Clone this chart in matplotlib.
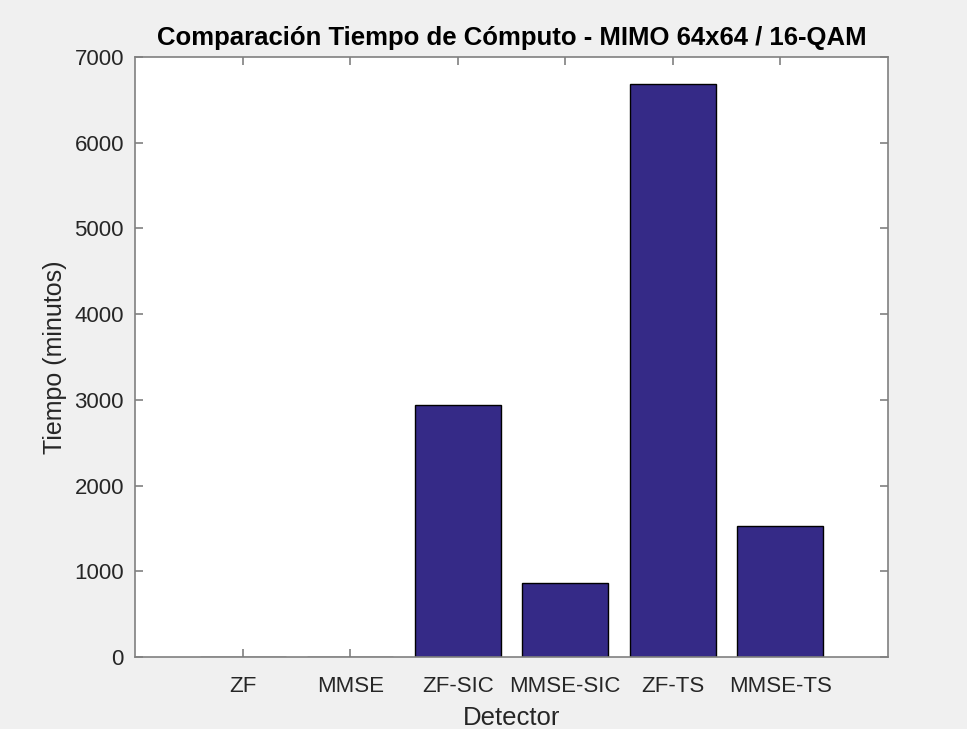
import matplotlib
matplotlib.use("Agg")
import matplotlib.pyplot as plt
import numpy as np

BG = "#f0f0f0"
BAR = "#352a87"
AXIS = "#808080"
TEXT = "#262626"

detectors = ["ZF", "MMSE", "ZF-SIC", "MMSE-SIC", "ZF-TS", "MMSE-TS"]
minutes = [0.8, 1.2, 2945, 868, 6690, 1528]
yticks = [0, 1000, 2000, 3000, 4000, 5000, 6000, 7000]

plt.rcParams["font.family"] = ["Liberation Sans", "DejaVu Sans"]

fig = plt.figure(figsize=(9.67, 7.29), dpi=100)
fig.patch.set_facecolor(BG)
ax = fig.add_axes([0.1396, 0.0988, 0.7787, 0.823])
ax.set_facecolor("white")

pos = np.arange(1, len(detectors) + 1)
ax.bar(pos, minutes, width=0.8, color=BAR, edgecolor="black", linewidth=1.0, zorder=2)

ax.set_xlim(0, 7)
ax.set_ylim(0, 7000)
ax.set_xticks(pos)
ax.set_xticklabels(detectors)
ax.set_yticks(yticks)

for s in ax.spines.values():
    s.set_color(AXIS)
    s.set_linewidth(1.2)
ax.tick_params(direction="in", top=True, right=True, length=6, width=1.2,
               color=AXIS, labelcolor=TEXT, labelsize=16)
ax.tick_params(axis="x", pad=14)
ax.tick_params(axis="y", pad=8)

ax.set_title("Comparación Tiempo de Cómputo - MIMO 64x64 / 16-QAM",
             fontsize=18.5, fontweight="bold", color="black", pad=9)
ax.set_xlabel("Detector", fontsize=18.5, color=TEXT, labelpad=6)
ax.set_ylabel("Tiempo (minutos)", fontsize=18, color=TEXT, labelpad=5)

fig.savefig("out.png", dpi=100, facecolor=BG)
